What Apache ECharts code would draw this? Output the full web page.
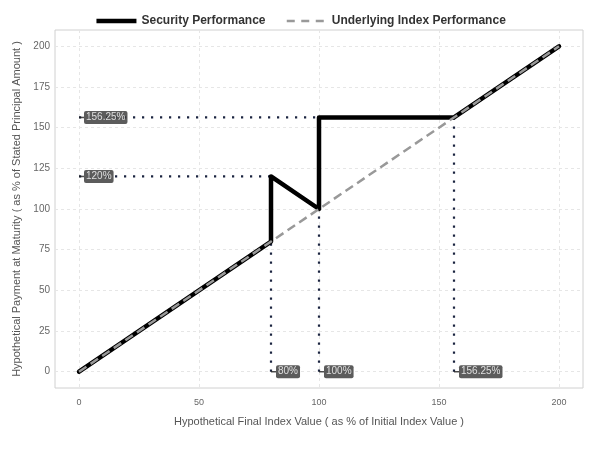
<!DOCTYPE html>
<html>
<head>
<meta charset="utf-8">
<script src="https://cdn.jsdelivr.net/npm/echarts@6/dist/echarts.min.js"></script>
<style>
  html, body { margin: 0; padding: 0; background: #fff; }
  #chart { width: 600px; height: 450px; }
</style>
</head>
<body>
<div id="chart"></div>
<script>
// payoff points (index value, payment)
const securityX = [0, 80, 80, 100, 100, 156.25, 200];
const securityY = [0, 80, 120, 100, 156.25, 156.25, 200];
const indexX = [0, 200];
const indexY = [0, 200];

// dotted guide lines: [x1, y1, x2, y2]
const guides = [
    [0, 156.25, 100, 156.25],
    [0, 120, 80, 120],
    [80, 0, 80, 80],
    [100, 0, 100, 100],
    [156.25, 0, 156.25, 156.25]
];

// boxed labels
const labelX = [0, 0, 80, 100, 156.25];
const labelY = [156.25, 120, 0, 0, 0];
const labelText = ['156.25%', '120%', '80%', '100%', '156.25%'];

const xTicks = [0, 50, 100, 150, 200];
const yTicks = [0, 25, 50, 75, 100, 125, 150, 175, 200];

const chart = echarts.init(document.getElementById('chart'));

const font = 'Liberation Sans, Arial, sans-serif';

const zip = (xs, ys) => xs.map((x, i) => [x, ys[i]]);

const guideSeries = guides.map(g => ({
    type: 'line',
    data: [[g[0], g[1]], [g[2], g[3]]],
    symbol: 'none',
    silent: true,
    z: 1,
    lineStyle: { color: '#1b2440', width: 2.2, type: [2.2, 6.8] }
}));

const option = {
    animation: false,
    textStyle: { fontFamily: font },
    legend: {
        top: 10,
        left: 'center',
        itemWidth: 40,
        itemHeight: 10,
        itemGap: 20,
        textStyle: { fontSize: 12, fontWeight: 'bold', color: '#333' },
        // hide the marker dot the line legend icon adds
        itemStyle: { color: 'rgba(0,0,0,0)', borderColor: 'rgba(0,0,0,0)', borderWidth: 0 },
        data: [
            { name: 'Security Performance', lineStyle: { width: 4.5, color: '#000', cap: 'butt' } },
            { name: 'Underlying Index Performance', lineStyle: { width: 2.5, color: '#999', type: [8, 6.5], cap: 'butt' } }
        ]
    },
    grid: {
        left: 55, right: 17, top: 30, bottom: 62,
        show: true, borderColor: '#d0d0d0', borderWidth: 1
    },
    xAxis: {
        type: 'value',
        min: -10, max: 210,
        name: 'Hypothetical Final Index Value ( as % of Initial Index Value )',
        nameLocation: 'middle',
        nameGap: 28,
        nameTextStyle: { fontSize: 11, color: '#555' },
        axisLine: { show: false },
        axisTick: { show: false, customValues: xTicks },
        axisLabel: { customValues: xTicks, fontSize: 9, color: '#666', margin: 10 },
        splitLine: { show: true, lineStyle: { color: '#e6e6e6', type: [3, 3] } }
    },
    yAxis: {
        type: 'value',
        min: -10, max: 210,
        name: 'Hypothetical Payment at Maturity ( as % of Stated Principal Amount )',
        nameLocation: 'middle',
        nameGap: 31,
        nameTextStyle: { fontSize: 11, color: '#555' },
        axisLine: { show: false },
        axisTick: { show: false, customValues: yTicks },
        axisLabel: { customValues: yTicks, fontSize: 10, color: '#666', margin: 5 },
        splitLine: { show: true, lineStyle: { color: '#e6e6e6', type: [3, 3] } }
    },
    series: guideSeries.concat([
        {
            name: 'Security Performance',
            type: 'line',
            data: zip(securityX, securityY),
            symbol: 'none',
            z: 3,
            color: '#000',
            lineStyle: { color: '#000', width: 4.5, cap: 'round', join: 'round' }
        },
        {
            name: 'Underlying Index Performance',
            type: 'line',
            data: zip(indexX, indexY),
            symbol: 'none',
            z: 4,
            color: '#999',
            lineStyle: { color: '#999', width: 2.5, type: [9, 5] }
        },
        {
            type: 'scatter',
            data: labelX.map((x, i) => ({ value: [x, labelY[i]], name: labelText[i] })),
            symbol: 'rect',
            symbolSize: [5, 1.5],
            symbolOffset: [2.5, 0],
            itemStyle: { color: '#222' },
            silent: true,
            z: 5,
            label: {
                show: true,
                position: 'right',
                distance: 0,
                formatter: p => p.name,
                color: '#fff',
                fontSize: 10,
                backgroundColor: '#333',
                borderRadius: 2,
                padding: [2, 2, 1, 2]
            }
        }
    ])
};

chart.setOption(option);
</script>
</body>
</html>
